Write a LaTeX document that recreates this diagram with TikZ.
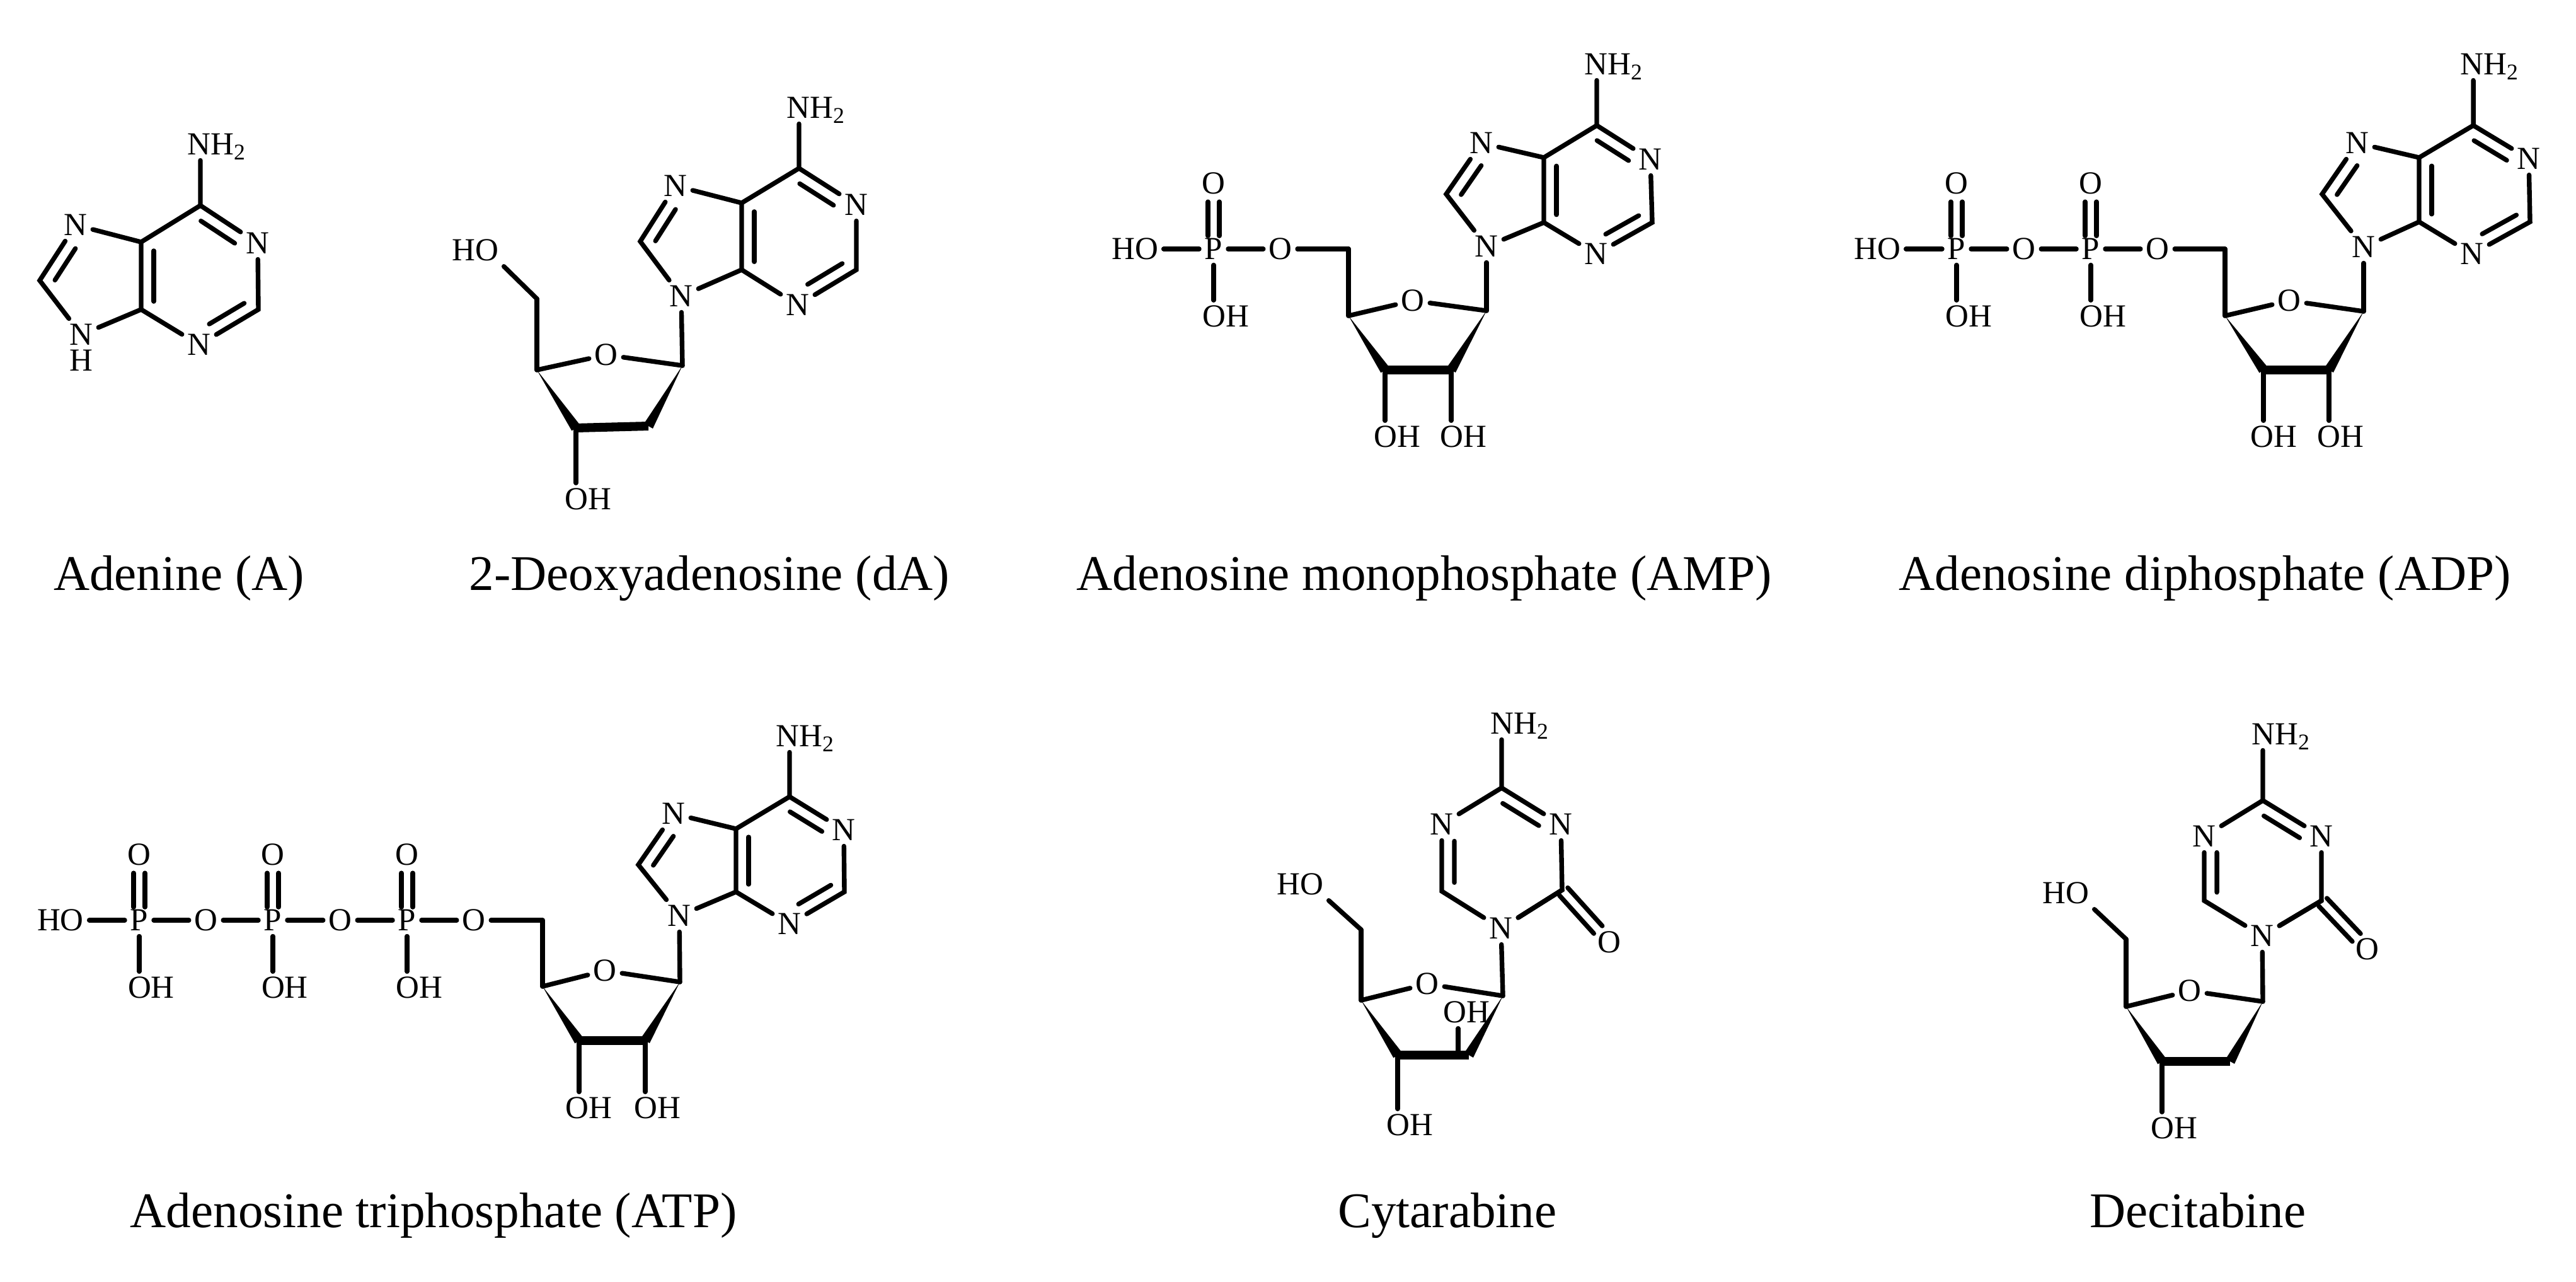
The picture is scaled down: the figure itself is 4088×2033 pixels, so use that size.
\documentclass[tikz,border=0pt]{standalone}
\usepackage{fontspec}
\setmainfont{Liberation Serif}
\usetikzlibrary{calc}

\tikzset{
  atom/.style={font=\fontsize{14.5}{16}\selectfont,inner sep=2pt,outer sep=.5pt,text depth=0pt},
  bond/.style={line width=2.1pt,line cap=round},
  boldbond/.style={line width=4pt},
  caption/.style={font=\fontsize{22.5}{26}\selectfont,anchor=base,inner sep=0pt}
}

\newcommand{\nhtwo}{NH\textsubscript{2}}
\newcommand{\innerbond}[4]{\draw[bond] ($(#1)!#3!(#2)!.2cm!-90:(#2)$) -- ($(#1)!#4!(#2)!.2cm!-90:(#2)$);}
\newcommand{\twinbond}[4]{%
  \draw[bond] ($(#1)!#3!(#2)!.09cm!90:(#2)$) -- ($(#1)!#4!(#2)!.09cm!90:(#2)$);
  \draw[bond] ($(#1)!#3!(#2)!.09cm!-90:(#2)$) -- ($(#1)!#4!(#2)!.09cm!-90:(#2)$);}
\newcommand{\wedgebond}[2]{\fill ($(#2)!.08cm!90:(#1)$) -- (#1) -- ($(#2)!.08cm!-90:(#1)$) -- cycle;}
% rings, #1 is the prefix of the node names
\newcommand{\purinebonds}[1]{%
  \draw[bond] (#1nh.south -| #1c6) -- (#1c6) -- (#1n1);
  \draw[bond] (#1n1) -- (#1c2) -- (#1n3);
  \draw[bond] (#1n3) -- (#1c4) -- (#1c5) -- (#1c6);
  \draw[bond] (#1c5) -- (#1n7);
  \draw[bond] (#1n7) -- (#1c8) -- (#1n9);
  \draw[bond] (#1n9) -- (#1c4);
  \innerbond{#1c6}{#1n1}{.13}{.72}
  \innerbond{#1c2}{#1n3}{.13}{.72}
  \innerbond{#1c4}{#1c5}{.12}{.87}
  \innerbond{#1c8}{#1n7}{.13}{.70}}
\newcommand{\triazinebonds}[1]{%
  \draw[bond] (#1nh.south -| #1c4) -- (#1c4) -- (#1n3);
  \draw[bond] (#1n3) -- (#1c2) -- (#1n1);
  \draw[bond] (#1n1) -- (#1c6) -- (#1n5);
  \draw[bond] (#1n5) -- (#1c4);
  \innerbond{#1c4}{#1n3}{.13}{.74}
  \innerbond{#1c6}{#1n5}{.13}{.75}
  \twinbond{#1c2}{#1o2}{.03}{.76}}
\newcommand{\sugarbonds}[2]{%
  \draw[bond] (#1r1) -- (#1o) -- (#1r4);
  \draw[bond] (#1r4) -- (#1r5);
  \draw[bond] (#1r1) -- (#2);
  \wedgebond{#1r4}{#1r3}
  \wedgebond{#1r1}{#1r2}
  \draw[boldbond] (#1r3) -- (#1r2);}
% P with its =O and OH
\newcommand{\phosgroup}[3]{%
  \node[atom] (#1) at (#2,#3) {P};
  \node[atom] (#1o) at ($(#1)+(0,-104)$) {O};
  \node[atom] (#1h) at ($(#1)+(19,107)$) {OH};
  \twinbond{#1}{#1o}{.2}{.72}
  \draw[bond] (#1) -- (#1 |- #1h.north);}

\begin{document}
\begin{tikzpicture}[x=.01cm,y=-.01cm]
  \useasboundingbox (0,0) rectangle (4088,2033);

  % adenine
  \node[atom] (anh) at (344,229) {\nhtwo};
  \coordinate (ac6) at (318,326);
  \node[atom] (an1) at (409,386) {N};
  \coordinate (ac2) at (410,491);
  \node[atom] (an3) at (316,547) {N};
  \coordinate (ac4) at (224,491);
  \coordinate (ac5) at (224,384);
  \node[atom] (an7) at (120,357) {N};
  \coordinate (ac8) at (63,445);
  \node[atom] (an9) at (129,531) {N};
  \node[atom] (ah) at (129,572) {H};
  \purinebonds{a}
  \node[caption] (acap) at (284,936) {Adenine (A)};

  % deoxyadenosine
  \node[atom] (dnh) at (1295,171) {\nhtwo};
  \coordinate (dc6) at (1268,267);
  \node[atom] (dn1) at (1359,325) {N};
  \coordinate (dc2) at (1359,428);
  \node[atom] (dn3) at (1266,484) {N};
  \coordinate (dc4) at (1177,428);
  \coordinate (dc5) at (1177,322);
  \node[atom] (dn7) at (1072,295) {N};
  \coordinate (dc8) at (1016,383);
  \node[atom] (dn9) at (1081,470) {N};
  \coordinate (dr1) at (1083,580);
  \node[atom] (do) at (962,563) {O};
  \coordinate (dr4) at (852,587);
  \coordinate (dr3) at (914,679);
  \coordinate (dr2) at (1029,676);
  \coordinate (dr5) at (852,474);
  \node[atom] (dho) at (754,397) {HO};
  \node[atom] (doh) at (933,792) {OH};
  \purinebonds{d}
  \sugarbonds{d}{dn9}
  \draw[bond] (dr5) -- (dho.south east);
  \draw[bond] (dr3) -- (dr3 |- doh.north);
  \node[caption] (dcap) at (1126,936) {2-Deoxyadenosine (dA)};

  % AMP
  \node[atom] (mnh) at (2561,102) {\nhtwo};
  \coordinate (mc6) at (2534,199);
  \node[atom] (mn1) at (2619,253) {N};
  \coordinate (mc2) at (2622,353);
  \node[atom] (mn3) at (2533,403) {N};
  \coordinate (mc4) at (2450,353);
  \coordinate (mc5) at (2450,250);
  \node[atom] (mn7) at (2351,227) {N};
  \coordinate (mc8) at (2295,308);
  \node[atom] (mn9) at (2359,391) {N};
  \coordinate (mr1) at (2359,493);
  \node[atom] (mo) at (2242,477) {O};
  \coordinate (mr4) at (2140,501);
  \coordinate (mr3) at (2198,587);
  \coordinate (mr2) at (2303,587);
  \coordinate (mr5) at (2140,395);
  \node[atom] (mo5) at (2032,395) {O};
  \phosgroup{mp}{1926}{395}
  \node[atom] (mho) at (1801,395) {HO};
  \node[atom] (moh3) at (2217,693) {OH};
  \node[atom] (moh2) at (2322,693) {OH};
  \purinebonds{m}
  \sugarbonds{m}{mn9}
  \draw[bond] (mr5) -- (mo5);
  \draw[bond] (mr5) -- (mo5);
  \draw[bond] (mo5) -- (mp);
  \draw[bond] (mp) -- (mho);
  \draw[bond] (mr3) -- (mr3 |- moh3.north);
  \draw[bond] (mr2) -- (mr2 |- moh2.north);
  \node[caption] (mcap) at (2260,936) {Adenosine monophosphate (AMP)};

  % ADP
  \node[atom] (pnh) at (3951,102) {\nhtwo};
  \coordinate (pc6) at (3925,199);
  \node[atom] (pn1) at (4013,252) {N};
  \coordinate (pc2) at (4015,352);
  \node[atom] (pn3) at (3923,403) {N};
  \coordinate (pc4) at (3839,352);
  \coordinate (pc5) at (3839,250);
  \node[atom] (pn7) at (3741,227) {N};
  \coordinate (pc8) at (3685,308);
  \node[atom] (pn9) at (3751,392) {N};
  \coordinate (pr1) at (3751,494);
  \node[atom] (po) at (3633,477) {O};
  \coordinate (pr4) at (3531,501);
  \coordinate (pr3) at (3592,587);
  \coordinate (pr2) at (3696,587);
  \coordinate (pr5) at (3531,395);
  \node[atom] (po5) at (3424,395) {O};
  \phosgroup{pb}{3318}{395}
  \node[atom] (pob) at (3212,395) {O};
  \phosgroup{pa}{3105}{395}
  \node[atom] (pho) at (2979,395) {HO};
  \node[atom] (poh3) at (3608,693) {OH};
  \node[atom] (poh2) at (3714,693) {OH};
  \purinebonds{p}
  \sugarbonds{p}{pn9}
  \draw[bond] (pr5) -- (po5);
  \draw[bond] (po5) -- (pb);
  \draw[bond] (pb) -- (pob);
  \draw[bond] (pob) -- (pa);
  \draw[bond] (pa) -- (pho);
  \draw[bond] (pr3) -- (pr3 |- poh3.north);
  \draw[bond] (pr2) -- (pr2 |- poh2.north);
  \node[caption] (pcap) at (3499,936) {Adenosine diphosphate (ADP)};

  % ATP
  \node[atom] (tnh) at (1278,1168) {\nhtwo};
  \coordinate (tc6) at (1253,1264);
  \node[atom] (tn1) at (1339,1317) {N};
  \coordinate (tc2) at (1340,1415);
  \node[atom] (tn3) at (1253,1466) {N};
  \coordinate (tc4) at (1168,1415);
  \coordinate (tc5) at (1168,1315);
  \node[atom] (tn7) at (1069,1291) {N};
  \coordinate (tc8) at (1013,1372);
  \node[atom] (tn9) at (1078,1453) {N};
  \coordinate (tr1) at (1079,1558);
  \node[atom] (to) at (960,1540) {O};
  \coordinate (tr4) at (861,1565);
  \coordinate (tr3) at (919,1651);
  \coordinate (tr2) at (1024,1651);
  \coordinate (tr5) at (861,1460);
  \node[atom] (to5) at (752,1460) {O};
  \phosgroup{tg}{646}{1460}
  \node[atom] (tob) at (540,1460) {O};
  \phosgroup{tb}{433}{1460}
  \node[atom] (toa) at (327,1460) {O};
  \phosgroup{ta}{221}{1460}
  \node[atom] (tho) at (96,1460) {HO};
  \node[atom] (toh3) at (934,1758) {OH};
  \node[atom] (toh2) at (1043,1758) {OH};
  \purinebonds{t}
  \sugarbonds{t}{tn9}
  \draw[bond] (tr5) -- (to5);
  \draw[bond] (to5) -- (tg);
  \draw[bond] (tg) -- (tob);
  \draw[bond] (tob) -- (tb);
  \draw[bond] (tb) -- (toa);
  \draw[bond] (toa) -- (ta);
  \draw[bond] (ta) -- (tho);
  \draw[bond] (tr3) -- (tr3 |- toh3.north);
  \draw[bond] (tr2) -- (tr2 |- toh2.north);
  \node[caption] (tcap) at (688,1947) {Adenosine triphosphate (ATP)};

  % cytarabine
  \node[atom] (cnh) at (2412,1148) {\nhtwo};
  \coordinate (cc4) at (2383,1250);
  \node[atom] (cn3) at (2477,1308) {N};
  \coordinate (cc2) at (2479,1412);
  \node[atom] (co2) at (2554,1495) {O};
  \node[atom] (cn1) at (2382,1473) {N};
  \coordinate (cc6) at (2288,1414);
  \node[atom] (cn5) at (2288,1308) {N};
  \coordinate (cr1) at (2385,1580);
  \node[atom] (co) at (2265,1561) {O};
  \coordinate (cr4) at (2160,1587);
  \coordinate (cr3) at (2218,1674);
  \coordinate (cr2) at (2331,1674);
  \coordinate (cr5) at (2160,1475);
  \coordinate (cb2) at (2314,1674);
  \node[atom] (cho) at (2063,1403) {HO};
  \node[atom] (coh2) at (2327,1606) {OH};
  \node[atom] (coh3) at (2237,1785) {OH};
  \draw[bond] (cb2) -- (cb2 |- coh2.south);
  \triazinebonds{c}
  \sugarbonds{c}{cn1}
  \draw[bond] (cn1) -- (cc2);
  \draw[bond] (cr5) -- (cho.south east);
  \draw[bond] (cr3) -- (cr3 |- coh3.north);
  \node[caption] (ccap) at (2297,1947) {Cytarabine};

  % decitabine
  \node[atom] (znh) at (3620,1165) {\nhtwo};
  \coordinate (zc4) at (3591,1270);
  \node[atom] (zn3) at (3684,1327) {N};
  \coordinate (zc2) at (3684,1429);
  \node[atom] (zo2) at (3757,1506) {O};
  \node[atom] (zn1) at (3590,1485) {N};
  \coordinate (zc6) at (3498,1429);
  \node[atom] (zn5) at (3498,1327) {N};
  \coordinate (zr1) at (3591,1589);
  \node[atom] (zo) at (3475,1572) {O};
  \coordinate (zr4) at (3374,1597);
  \coordinate (zr3) at (3431,1684);
  \coordinate (zr2) at (3539,1684);
  \coordinate (zr5) at (3374,1490);
  \node[atom] (zho) at (3278,1417) {HO};
  \node[atom] (zoh) at (3450,1790) {OH};
  \triazinebonds{z}
  \sugarbonds{z}{zn1}
  \draw[bond] (zn1) -- (zc2);
  \draw[bond] (zr5) -- (zho.south east);
  \draw[bond] (zr3) -- (zr3 |- zoh.north);
  \node[caption] (zcap) at (3488,1947) {Decitabine};
\end{tikzpicture}
\end{document}
